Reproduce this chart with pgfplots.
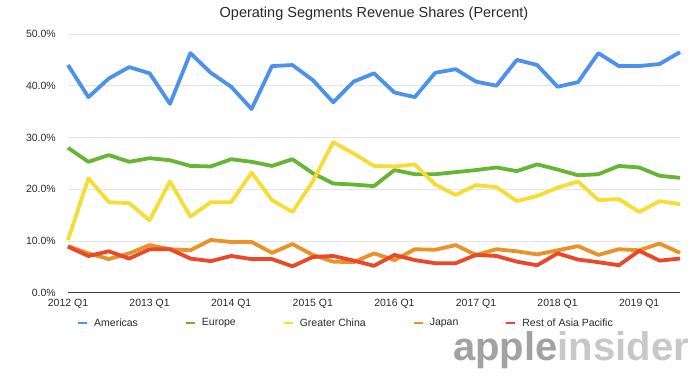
\documentclass[border=0pt]{standalone}
\usepackage{fontspec}
\setmainfont{Liberation Sans}
\usepackage{pgfplots}
\pgfplotsset{compat=1.18}
\definecolor{cAm}{RGB}{76,146,236}
\definecolor{cEu}{RGB}{102,182,52}
\definecolor{cCn}{RGB}{246,220,52}
\definecolor{cJp}{RGB}{232,146,40}
\definecolor{cRa}{RGB}{234,72,40}
\definecolor{txt}{RGB}{40,40,40}
\begin{document}
\begin{tikzpicture}
\path[use as bounding box] (0pt,0pt) rectangle (700pt,383pt);
\node[font=\fontsize{14.5}{16}\selectfont, text=txt] at (374pt,369pt) {Operating Segments Revenue Shares (Percent)};
\node[anchor=base west, inner sep=0pt, font=\fontsize{40}{44}\selectfont\bfseries] at (453pt,23pt) {\textcolor[RGB]{162,162,162}{apple}\textcolor[RGB]{200,200,200}{insider}};
\begin{axis}[
  at={(68pt,90.3pt)}, anchor=south west,
  scale only axis, width=612pt, height=258.7pt,
  xmin=0, xmax=30, ymin=0, ymax=50,
  axis x line*=bottom, axis y line*=left,
  y axis line style={draw=none},
  x axis line style={draw=black!75, line width=1.3pt, -},
  tick style={draw=none},
  ymajorgrids, grid style={color=black!10, line width=0.9pt},
  ytick={0,10,20,30,40,50},
  yticklabels={0.0\%,10.0\%,20.0\%,30.0\%,40.0\%,50.0\%},
  xtick={0,4,8,12,16,20,24,28},
  xticklabels={2012 Q1,2013 Q1,2014 Q1,2015 Q1,2016 Q1,2017 Q1,2018 Q1,2019 Q1},
  yticklabel style={anchor=base east, inner sep=0pt, xshift=-12pt, yshift=-3.75pt, font=\fontsize{10.5}{12}\selectfont, text=txt},
  xticklabel style={anchor=base, inner sep=0pt, yshift=-14pt, font=\fontsize{10.5}{12}\selectfont, text=txt},
  legend columns=5,
  legend style={at={(0.4526,-0.117)}, anchor=center, draw=none, fill=none, inner sep=0pt, outer sep=0pt,
    nodes={inner sep=0pt, font=\fontsize{10.5}{12}\selectfont, text=txt},
    /tikz/every odd column/.append style={column sep=6pt},
    /tikz/every even column/.append style={column sep=47pt}},
  legend image code/.code={\draw[line width=2pt] (0pt,0pt) -- (9pt,0pt);},
  every axis plot/.append style={line width=3.8pt, line join=round, mark=none},
  clip=false,
]
\addplot[cAm] coordinates {(0,44.0)(1,37.8)(2,41.4)(3,43.6)(4,42.4)(5,36.5)(6,46.3)(7,42.5)(8,39.8)(9,35.5)(10,43.8)(11,44.0)(12,41.1)(13,36.8)(14,40.8)(15,42.4)(16,38.7)(17,37.8)(18,42.5)(19,43.2)(20,40.8)(21,40.0)(22,45.0)(23,44.0)(24,39.8)(25,40.7)(26,46.3)(27,43.8)(28,43.8)(29,44.2)(30,46.5)};
\addlegendentry{Americas}
\addplot[cEu] coordinates {(0,28.0)(1,25.3)(2,26.6)(3,25.3)(4,26.0)(5,25.6)(6,24.5)(7,24.4)(8,25.8)(9,25.3)(10,24.5)(11,25.8)(12,23.1)(13,21.1)(14,20.9)(15,20.6)(16,23.7)(17,22.9)(18,22.9)(19,23.3)(20,23.7)(21,24.2)(22,23.5)(23,24.8)(24,23.8)(25,22.7)(26,22.9)(27,24.5)(28,24.2)(29,22.6)(30,22.2)};
\addlegendentry{Europe}
\addplot[cCn] coordinates {(0,10.2)(1,22.1)(2,17.5)(3,17.3)(4,14.0)(5,21.5)(6,14.7)(7,17.5)(8,17.5)(9,23.2)(10,17.9)(11,15.6)(12,21.5)(13,29.1)(14,26.9)(15,24.5)(16,24.4)(17,24.8)(18,20.9)(19,18.9)(20,20.8)(21,20.4)(22,17.7)(23,18.7)(24,20.3)(25,21.5)(26,17.9)(27,18.1)(28,15.6)(29,17.7)(30,17.1)};
\addlegendentry{Greater China}
\addplot[cJp] coordinates {(0,9.0)(1,7.6)(2,6.5)(3,7.6)(4,9.2)(5,8.4)(6,8.2)(7,10.2)(8,9.8)(9,9.8)(10,7.7)(11,9.4)(12,7.3)(13,6.0)(14,5.9)(15,7.6)(16,6.3)(17,8.4)(18,8.3)(19,9.2)(20,7.3)(21,8.4)(22,8.0)(23,7.4)(24,8.2)(25,9.0)(26,7.3)(27,8.4)(28,8.2)(29,9.5)(30,7.7)};
\addlegendentry{Japan}
\addplot[cRa] coordinates {(0,8.9)(1,7.1)(2,8.0)(3,6.6)(4,8.4)(5,8.4)(6,6.6)(7,6.1)(8,7.1)(9,6.5)(10,6.5)(11,5.1)(12,6.9)(13,7.1)(14,6.2)(15,5.2)(16,7.3)(17,6.3)(18,5.7)(19,5.7)(20,7.3)(21,7.1)(22,6.0)(23,5.3)(24,7.6)(25,6.4)(26,5.9)(27,5.3)(28,8.1)(29,6.2)(30,6.6)};
\addlegendentry{Rest of Asia Pacific}
\end{axis}
\end{tikzpicture}
\end{document}
